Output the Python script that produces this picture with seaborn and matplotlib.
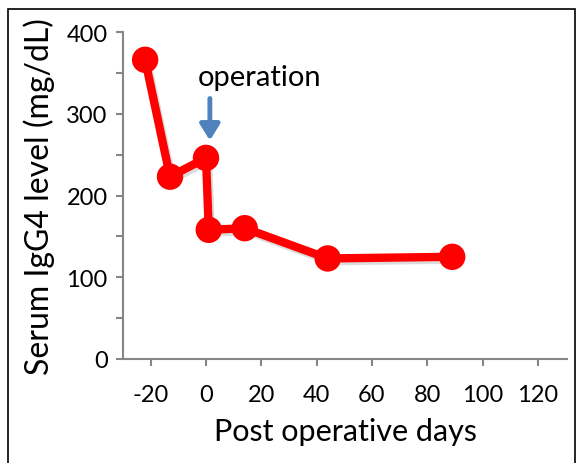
import matplotlib
matplotlib.use("Agg")
import matplotlib.pyplot as plt
import matplotlib.patheffects as pe
from matplotlib.patches import Rectangle
import seaborn as sns
import pandas as pd

days = [-22, -13, 0, 1, 14, 44, 89]
igg4 = [366, 223, 246, 158, 160, 123, 125]
x_ticks = [-20, 0, 20, 40, 60, 80, 100, 120]
y_ticks = [0, 100, 200, 300, 400]
annot_x = 1.4
annot_text = "operation"

sns.set_theme(style="white")
plt.rcParams['font.family'] = ['Lato', 'DejaVu Sans']
plt.rcParams['text.color'] = 'black'
plt.rcParams['axes.labelcolor'] = 'black'
plt.rcParams['xtick.labelcolor'] = 'black'
plt.rcParams['ytick.labelcolor'] = 'black'

df = pd.DataFrame({"days": days, "igg4": igg4})

fig = plt.figure(figsize=(5.79, 4.64), dpi=100)
ax = fig.add_axes([123/579, 1 - 360/464, 444/579, 327/464])

sns.lineplot(data=df, x="days", y="igg4", ax=ax, sort=False, color="#FF0000",
             linewidth=6, marker="o", markersize=19, markeredgecolor="#FF0000",
             markeredgewidth=0,
             path_effects=[pe.SimpleLineShadow(offset=(1.5, -2), alpha=0.15), pe.Normal()])

ax.set_xlim(-30, 130.5)
ax.set_ylim(0, 400)
ax.set_xticks(x_ticks)
ax.set_xticklabels([str(v) for v in x_ticks])
ax.set_yticks(y_ticks)
ax.set_yticks([50, 150, 250, 350], minor=True)

for s in ["top", "right"]:
    ax.spines[s].set_visible(False)
for s in ["left", "bottom"]:
    ax.spines[s].set_color("#868686")
    ax.spines[s].set_linewidth(1.5)

ax.tick_params(axis="both", which="both", direction="out", color="#868686",
               width=1.5, length=5, labelcolor="black")
ax.tick_params(axis="x", which="major", labelsize=17, pad=13, bottom=True)
ax.tick_params(axis="y", which="both", left=True)
ax.tick_params(axis="y", which="major", labelsize=17, pad=6)

ax.set_xlabel("Post operative days", fontsize=22, labelpad=9, color="black")
ax.set_ylabel("Serum IgG4 level (mg/dL)", fontsize=23, labelpad=8, color="black")

ax.text(annot_x + 18, 345, annot_text, ha="center", va="center",
        fontsize=21, color="black")
ax.annotate("", xy=(annot_x, 264), xytext=(annot_x, 322),
            arrowprops=dict(arrowstyle="-|>,head_width=0.5,head_length=0.8",
                            color="#4F81BD", lw=3.5))

ax.grid(False)

fig.patches.append(Rectangle((8/579, -0.05), 567/579, 1.05 - 10/464,
                             transform=fig.transFigure, fill=False,
                             edgecolor="black", linewidth=1.2))

fig.savefig("out.png", dpi=100)
